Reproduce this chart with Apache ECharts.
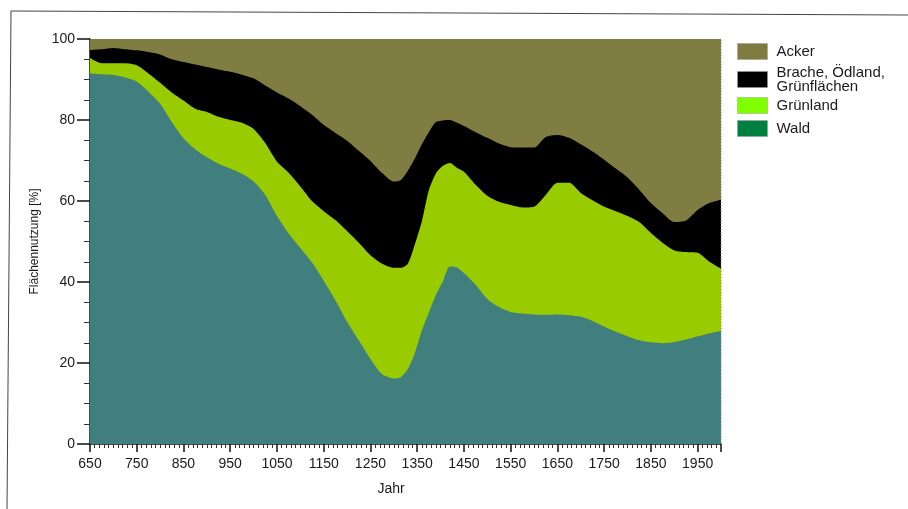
<!DOCTYPE html>
<html>
<head>
<meta charset="utf-8">
<script src="https://cdn.jsdelivr.net/npm/echarts@6/dist/echarts.min.js"></script>
<style>
html,body{margin:0;padding:0;background:#fff;}
#chart{width:908px;height:509px;}
</style>
</head>
<body>
<div id="chart"></div>
<script>
// Years (x values)
const years = [650, 675, 700, 725, 750, 775, 800, 825, 850, 875, 900, 925, 950, 975, 1000,
  1025, 1050, 1075, 1100, 1125, 1150, 1175, 1200, 1225, 1250, 1275, 1300, 1315, 1330, 1345,
  1360, 1375, 1390, 1405, 1420, 1435, 1450, 1475, 1500, 1525, 1550, 1575, 1600, 1625, 1650,
  1675, 1700, 1725, 1750, 1775, 1800, 1825, 1850, 1875, 1900, 1925, 1950, 1975, 2000];

// Shares in %
const wald = [91.5, 91.3, 91.1, 90.5, 89.5, 87.0, 84.0, 79.5, 75.5, 72.8, 70.8, 69.2, 68.0, 66.7, 64.8,
  61.5, 56.3, 52.0, 48.4, 44.8, 40.3, 35.5, 30.2, 25.6, 21.0, 17.2, 16.2, 16.5, 18.5, 22.5,
  28.0, 32.5, 36.8, 40.2, 43.8, 43.6, 42.2, 39.3, 35.8, 33.8, 32.6, 32.2, 32.0, 31.9, 32.0,
  31.8, 31.4, 30.4, 29.0, 27.7, 26.6, 25.6, 25.1, 24.9, 25.2, 25.8, 26.6, 27.3, 27.9];

const gruenland = [3.8, 2.7, 2.9, 3.5, 4.0, 4.5, 5.2, 7.3, 9.3, 10.0, 11.2, 11.6, 12.0, 12.6, 13.0,
  12.8, 13.4, 15.0, 15.2, 15.2, 17.2, 19.8, 22.4, 24.1, 25.6, 27.3, 27.3, 27.0, 26.0, 26.8,
  27.0, 30.2, 30.0, 28.5, 25.6, 24.6, 25.0, 24.7, 25.5, 26.0, 26.4, 26.2, 26.6, 29.6, 32.5,
  32.7, 30.6, 29.8, 29.6, 29.8, 29.7, 29.2, 27.0, 24.8, 22.6, 21.6, 20.6, 17.7, 15.4];

const brache = [2.0, 3.5, 3.8, 3.5, 3.7, 5.3, 7.0, 8.2, 9.5, 10.9, 11.1, 11.7, 11.9, 11.9, 12.5,
  14.2, 17.1, 18.3, 19.8, 21.3, 21.3, 21.5, 22.3, 22.7, 23.3, 22.4, 21.3, 21.7, 23.0, 21.2,
  19.0, 14.3, 12.7, 11.2, 10.6, 11.1, 11.3, 13.0, 14.3, 14.4, 14.3, 14.8, 14.6, 14.3, 11.8,
  11.1, 12.0, 12.0, 11.6, 10.5, 9.5, 8.0, 7.4, 7.3, 7.0, 7.8, 10.6, 14.5, 17.0];

const acker = [2.7, 2.5, 2.2, 2.5, 2.8, 3.2, 3.8, 5.0, 5.7, 6.3, 6.9, 7.5, 8.1, 8.8, 9.7,
  11.5, 13.2, 14.7, 16.6, 18.7, 21.2, 23.2, 25.1, 27.6, 30.1, 33.1, 35.2, 34.8, 32.5, 29.5,
  26.0, 23.0, 20.5, 20.1, 20.0, 20.7, 21.5, 23.0, 24.4, 25.8, 26.7, 26.8, 26.8, 24.2, 23.7,
  24.4, 26.0, 27.8, 29.8, 32.0, 34.2, 37.2, 40.5, 43.0, 45.2, 44.8, 42.2, 40.5, 39.7];

// Stack order from bottom to top
const seriesNames = ['Wald', 'Grünland', 'Brache, Ödland, Grünflächen', 'Acker'];
const seriesValues = [wald, gruenland, brache, acker];
const areaColors = ['#417e7e', '#99cc00', '#000000', '#807d42'];
const legendColors = {'Acker': '#807c3f', 'Brache, Ödland, Grünflächen': '#000000', 'Grünland': '#80ff00', 'Wald': '#008040'};
const legendTops = {'Acker': 43, 'Brache, Ödland, Grünflächen': 65, 'Grünland': 97, 'Wald': 120};
const legendOrder = ['Acker', 'Brache, Ödland, Grünflächen', 'Grünland', 'Wald'];

const FONT = '"Liberation Sans", Arial, Helvetica, sans-serif';

// cumulative (stacked) tops of each band, computed from the shares
const cumulative = seriesValues.map((vals, i) =>
  years.map((y, k) => {
    let s = 0;
    for (let j = 0; j <= i; j++) s += seriesValues[j][k];
    return [y, Math.round(s * 100) / 100];
  })
);

const chart = echarts.init(document.getElementById('chart'), null, {renderer: 'canvas'});

// draw the top band first, each area filled down to 0, lower bands painted over it
const series = [];
for (let i = seriesNames.length - 1; i >= 0; i--) {
  series.push({
    name: seriesNames[i],
    type: 'line',
    smooth: 0.25,
    showSymbol: false,
    symbol: 'none',
    lineStyle: {width: 0},
    itemStyle: {color: areaColors[i]},
    areaStyle: {color: areaColors[i], opacity: 1, origin: 'start'},
    data: cumulative[i]
  });
}

const option = {
  animation: false,
  backgroundColor: '#ffffff',
  textStyle: {fontFamily: FONT},
  grid: {left: 90, right: 187, top: 39, bottom: 65, containLabel: false},
  legend: legendOrder.map(name => ({
    data: [{name: name, itemStyle: {color: legendColors[name], borderColor: '#9a9a9a', borderWidth: 1, borderType: 'dotted'}}],
    orient: 'vertical',
    left: 737,
    top: legendTops[name],
    padding: 0,
    itemWidth: 30,
    itemHeight: 16,
    icon: 'rect',
    selectedMode: false,
    formatter: n => n === 'Brache, Ödland, Grünflächen' ? 'Brache, Ödland,\nGrünflächen' : n,
    textStyle: {fontFamily: FONT, fontSize: 15, color: '#1a1a1a', lineHeight: 14, padding: [0, 0, 0, 4]}
  })),
  xAxis: {
    type: 'value',
    min: 650,
    max: 2000,
    interval: 100,
    name: 'Jahr',
    nameLocation: 'middle',
    nameGap: 38,
    nameTextStyle: {fontFamily: FONT, fontSize: 14, color: '#1a1a1a', padding: [0, 29, 0, 0]},
    axisLine: {show: true, lineStyle: {color: '#111', width: 1.5}},
    axisTick: {show: true, length: 8, inside: false, lineStyle: {color: '#111', width: 1.5}},
    minorTick: {show: true, splitNumber: 10, length: 4, lineStyle: {color: '#333', width: 1}},
    axisLabel: {fontFamily: FONT, fontSize: 14, color: '#1a1a1a', margin: 13, showMaxLabel: false,
      formatter: v => String(v)},
    splitLine: {show: false}
  },
  yAxis: {
    type: 'value',
    min: 0,
    max: 100,
    interval: 20,
    name: 'Flächennutzung [%]',
    nameLocation: 'middle',
    nameGap: 46,
    nameTextStyle: {fontFamily: FONT, fontSize: 12, color: '#1a1a1a'},
    axisLine: {show: true, lineStyle: {color: '#111', width: 1.5}},
    axisTick: {show: true, length: 13, lineStyle: {color: '#111', width: 1.5}},
    minorTick: {show: true, splitNumber: 4, length: 6, lineStyle: {color: '#333', width: 1}},
    axisLabel: {fontFamily: FONT, fontSize: 14, color: '#1a1a1a', margin: 15},
    splitLine: {show: false}
  },
  graphic: [
    {type: 'polyline', silent: true, z: 100,
     shape: {points: [[7, 509], [11, 11], [908, 15]]},
     style: {stroke: '#444', lineWidth: 1, fill: null}},
    {type: 'line', silent: true, z: 100,
     shape: {x1: 721, y1: 40, x2: 721, y2: 444},
     style: {stroke: '#888', lineWidth: 1, lineDash: [1, 2]}}
  ],
  series: series
};

chart.setOption(option);
</script>
</body>
</html>
